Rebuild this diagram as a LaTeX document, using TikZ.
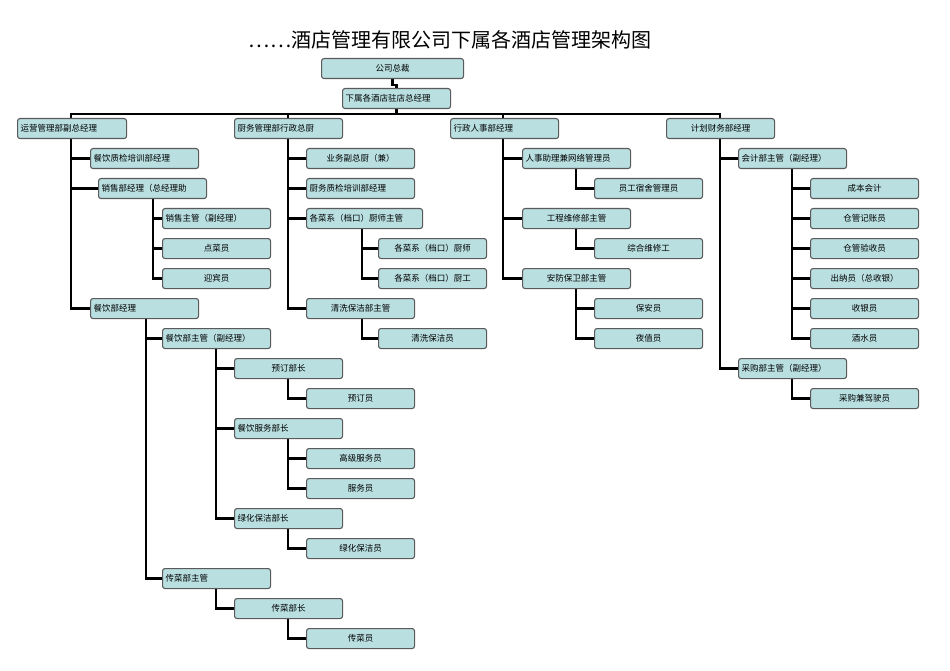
\documentclass[tikz,border=0pt]{standalone}
\usepackage{fontspec}
\usetikzlibrary{backgrounds}
\newfontfamily\cjk{Noto Sans CJK SC}
\definecolor{boxfill}{HTML}{B9DFE1}
\definecolor{boxline}{HTML}{5A5A5A}
\tikzset{
  bx/.style={draw=boxline,line width=1.1pt,fill=boxfill,rounded corners=2.5pt,minimum height=20pt,inner sep=3pt,anchor=north west,font=\cjk\fontsize{8.5}{9}\selectfont},
  ln/.style={line width=2.4pt,black}
}
\newcommand{\B}[6]{\node[bx,minimum width=#4pt,text width=#4pt-6pt,align=#5] (#1) at (#2,#3) {#6};}
\newcommand{\C}[3]{\draw[ln] ([xshift=#2pt]#1.south west) |- (#3.west);}
\begin{document}
\begin{tikzpicture}[x=1pt,y=-1pt]
\useasboundingbox (0,0) rectangle (950,671);
\node[font=\cjk\fontsize{20}{22}\selectfont] (title) at (450,40) {……酒店管理有限公司下属各酒店管理架构图};
\B{ceo}{321}{58}{142}{center}{公司总裁}
\B{gm}{342}{88}{108}{left}{下属各酒店驻店总经理}
\B{a}{17}{118}{109}{left}{运营管理部副总经理}
\B{b}{234}{118}{108}{left}{厨务管理部行政总厨}
\B{c}{450}{118}{108}{left}{行政人事部经理}
\B{d}{666}{118}{108}{center}{计划财务部经理}
% col a
\B{a1}{90}{148}{108}{left}{餐饮质检培训部经理}
\B{a2}{98}{178}{108}{left}{销售部经理（总经理助}
\B{a21}{162}{208}{108}{left}{销售主管（副经理）}
\B{a22}{162}{238}{108}{center}{点菜员}
\B{a23}{162}{268}{108}{center}{迎宾员}
\B{a3}{90}{298}{108}{left}{餐饮部经理}
\B{a31}{162}{328}{108}{left}{餐饮部主管（副经理）}
\B{a311}{234}{358}{108}{center}{预订部长}
\B{a3111}{306}{388}{108}{center}{预订员}
\B{a312}{234}{418}{108}{left}{餐饮服务部长}
\B{a3121}{306}{448}{108}{center}{高级服务员}
\B{a3122}{306}{478}{108}{center}{服务员}
\B{a313}{234}{508}{108}{left}{绿化保洁部长}
\B{a3131}{306}{538}{108}{center}{绿化保洁员}
\B{a32}{162}{568}{108}{left}{传菜部主管}
\B{a321}{234}{598}{108}{center}{传菜部长}
\B{a3211}{306}{628}{108}{center}{传菜员}
% col b
\B{b1}{306}{148}{108}{center}{业务副总厨（兼）}
\B{b2}{306}{178}{108}{left}{厨务质检培训部经理}
\B{b3}{306}{208}{116}{left}{各菜系（档口）厨师主管}
\B{b31}{378}{238}{108}{center}{各菜系（档口）厨师}
\B{b32}{378}{268}{108}{center}{各菜系（档口）厨工}
\B{b4}{306}{298}{108}{center}{清洗保洁部主管}
\B{b41}{378}{328}{108}{center}{清洗保洁员}
% col c
\B{c1}{522}{148}{108}{left}{人事助理兼网络管理员}
\B{c11}{594}{178}{108}{center}{员工宿舍管理员}
\B{c2}{522}{208}{108}{center}{工程维修部主管}
\B{c21}{594}{238}{108}{center}{综合维修工}
\B{c3}{522}{268}{108}{center}{安防保卫部主管}
\B{c31}{594}{298}{108}{center}{保安员}
\B{c32}{594}{328}{108}{center}{夜值员}
% col d
\B{d1}{738}{148}{108}{left}{会计部主管（副经理）}
\B{d11}{810}{178}{108}{center}{成本会计}
\B{d12}{810}{208}{108}{center}{仓管记账员}
\B{d13}{810}{238}{108}{center}{仓管验收员}
\B{d14}{810}{268}{108}{center}{出纳员（总收银）}
\B{d15}{810}{298}{108}{center}{收银员}
\B{d16}{810}{328}{108}{center}{酒水员}
\B{d2}{738}{358}{108}{left}{采购部主管（副经理）}
\B{d21}{810}{388}{108}{center}{采购兼驾驶员}
% connectors
\begin{scope}[on background layer]
\draw[ln] (ceo.south) -- ++(0,6) -| (gm.north);
\foreach \t/\o in {a/54,b/54,c/53,d/54}{
  \draw[ln] (gm.south) -- ++(0,5) -| ([xshift=\o pt]\t.north west);
}
\C{a}{54}{a1}\C{a}{54}{a2}\C{a}{54}{a3}
\C{a2}{55}{a21}\C{a2}{55}{a22}\C{a2}{55}{a23}
\C{a3}{56}{a31}\C{a3}{56}{a32}
\C{a31}{54}{a311}\C{a31}{54}{a312}\C{a31}{54}{a313}
\C{a311}{54}{a3111}
\C{a312}{54}{a3121}\C{a312}{54}{a3122}
\C{a313}{54}{a3131}
\C{a32}{54}{a321}\C{a321}{54}{a3211}
\C{b}{54}{b1}\C{b}{54}{b2}\C{b}{54}{b3}\C{b}{54}{b4}
\C{b3}{56}{b31}\C{b3}{56}{b32}
\C{b4}{56}{b41}
\C{c}{53}{c1}\C{c}{53}{c2}\C{c}{53}{c3}
\C{c1}{54}{c11}\C{c2}{54}{c21}\C{c3}{54}{c31}\C{c3}{54}{c32}
\C{d}{54}{d1}\C{d}{54}{d2}
\foreach \k in {d11,d12,d13,d14,d15,d16}{\C{d1}{54}{\k}}
\C{d2}{54}{d21}
\end{scope}
\end{tikzpicture}
\end{document}
